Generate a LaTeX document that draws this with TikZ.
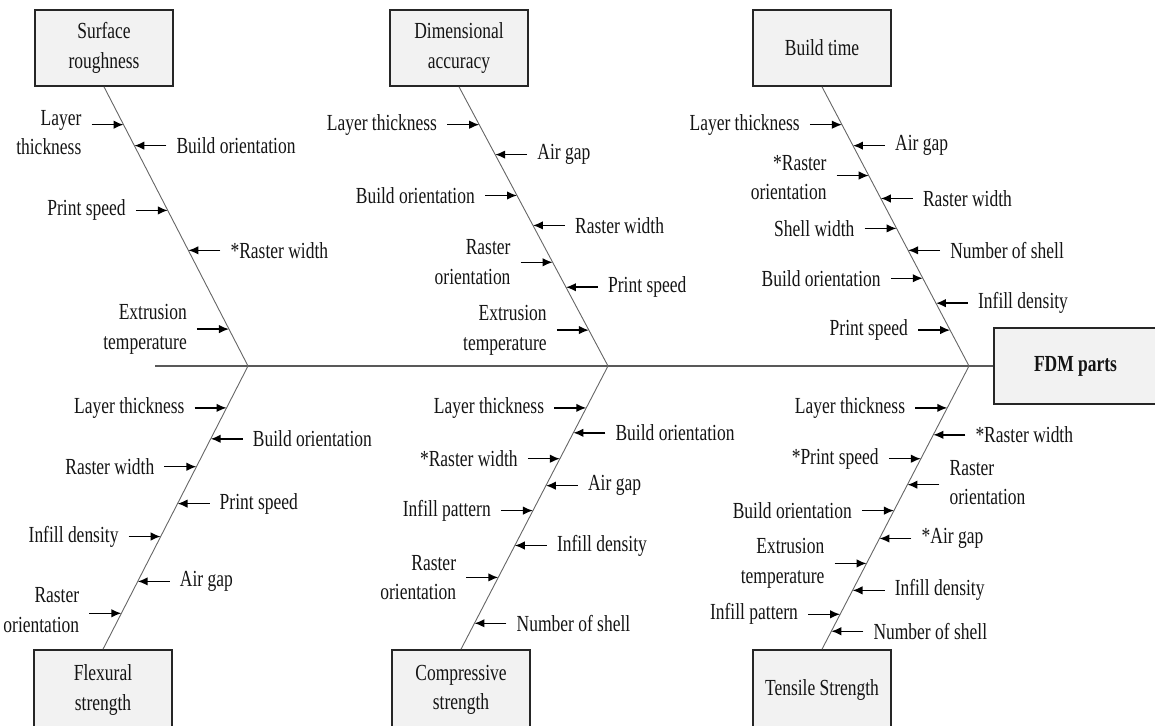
\documentclass[tikz,border=0pt]{standalone}
\usepackage{fontspec}
\setmainfont{Liberation Serif}[FakeStretch=0.76]
\usetikzlibrary{calc,arrows.meta}

% y range of the bone that the next causes sit on
\newcommand\setbone[2]{\def\bonetop{#1}\def\bonebot{#2}}
% cause on the left of a bone: [label yshift]{name}{bone start}{bone end}{y}{text}
\newcommand\lcause[6][0pt]{%
  \pgfmathsetmacro\causefrac{(#5-\bonetop)/(\bonebot-\bonetop)}%
  \coordinate (#2) at ($(#3)!\causefrac!(#4)$);
  \node[lbl, anchor=east, align=right, xshift=-32pt, yshift=#1] (#2l) at (#2) {#6};
  \draw[cause] (#2l.east |- #2) -- (#2);
}
% cause on the right of a bone
\newcommand\rcause[6][0pt]{%
  \pgfmathsetmacro\causefrac{(#5-\bonetop)/(\bonebot-\bonetop)}%
  \coordinate (#2) at ($(#3)!\causefrac!(#4)$);
  \node[lbl, anchor=west, align=left, xshift=32pt, yshift=#1] (#2l) at (#2) {#6};
  \draw[cause] (#2l.west |- #2) -- (#2);
}

\begin{document}
\begin{tikzpicture}[x=1pt, y=-1pt,
  txt/.style={font=\fontsize{23}{29.5}\selectfont, text=black!92},
  effect/.style={txt, draw=black!85, line width=1.6pt, fill=black!5,
    minimum width=138pt, minimum height=76pt, align=center, inner sep=0pt},
  loweffect/.style={effect, minimum height=80pt},
  lbl/.style={txt, inner ysep=0pt, inner xsep=10pt},
  bone/.style={draw=black!60, line width=0.9pt},
  spine/.style={draw=black!65, line width=1.3pt},
  cause/.style={draw=black, line width=1.5pt, -{Latex[length=10pt,width=8.5pt]}},
]
\useasboundingbox (0,0) rectangle (1155,725);
\clip (0,0) rectangle (1155,725);

% head and spine
\node[effect, minimum width=163pt, font=\fontsize{23}{29.5}\selectfont\bfseries] (fdm) at (1075.5,366) {FDM parts};
\coordinate (tail) at (155,366);
\coordinate (j1) at (248,366);
\coordinate (j2) at (608,366);
\coordinate (j3) at (969,366);

% effect boxes
\node[effect] (sr) at (104,48)  {Surface\\roughness};
\node[effect] (da) at (459,48)  {Dimensional\\accuracy};
\node[effect] (bt) at (822,48)  {Build time};
\node[loweffect] (fs) at (103,690) {Flexural\\strength};
\node[loweffect] (cs) at (461,690) {Compressive\\strength};
\node[loweffect] (ts) at (822,690) {Tensile Strength};

\draw[spine] (tail) -- (fdm.west);
\draw[bone] (sr.south) -- (j1);
\draw[bone] (da.south) -- (j2);
\draw[bone] (bt.south) -- (j3);
\draw[bone] (j1) -- (fs.north);
\draw[bone] (j2) -- (cs.north);
\draw[bone] (j3) -- (ts.north);

% upper bones
\setbone{86}{366}
\lcause[-8pt]{a1}{sr.south}{j1}{124}{Layer\\thickness}
\rcause{a2}{sr.south}{j1}{145}{Build orientation}
\lcause{a3}{sr.south}{j1}{210}{Print speed}
\rcause{a4}{sr.south}{j1}{250}{*Raster width}
\lcause{a5}{sr.south}{j1}{329}{Extrusion\\temperature}

\lcause{b1}{da.south}{j2}{124}{Layer thickness}
\rcause{b2}{da.south}{j2}{154}{Air gap}
\lcause{b3}{da.south}{j2}{195}{Build orientation}
\rcause{b4}{da.south}{j2}{225}{Raster width}
\lcause{b5}{da.south}{j2}{262}{Raster\\orientation}
\rcause{b6}{da.south}{j2}{287}{Print speed}
\lcause{b7}{da.south}{j2}{330}{Extrusion\\temperature}

\lcause{c1}{bt.south}{j3}{124}{Layer thickness}
\rcause{c2}{bt.south}{j3}{145}{Air gap}
\lcause[-2pt]{c3}{bt.south}{j3}{175}{*Raster\\orientation}
\rcause{c4}{bt.south}{j3}{198}{Raster width}
\lcause{c5}{bt.south}{j3}{228}{Shell width}
\rcause{c6}{bt.south}{j3}{250}{Number of shell}
\lcause{c7}{bt.south}{j3}{278}{Build orientation}
\rcause{c8}{bt.south}{j3}{303}{Infill density}
\lcause{c9}{bt.south}{j3}{330}{Print speed}

% lower bones
\setbone{366}{650}
\lcause{d1}{j1}{fs.north}{408}{Layer thickness}
\rcause{d2}{j1}{fs.north}{439}{Build orientation}
\lcause{d3}{j1}{fs.north}{467}{Raster width}
\rcause{d4}{j1}{fs.north}{504}{Print speed}
\lcause{d5}{j1}{fs.north}{537}{Infill density}
\rcause{d6}{j1}{fs.north}{582}{Air gap}
\lcause[3pt]{d7}{j1}{fs.north}{614}{Raster\\orientation}

\lcause{e1}{j2}{cs.north}{408}{Layer thickness}
\rcause{e2}{j2}{cs.north}{433}{Build orientation}
\lcause{e3}{j2}{cs.north}{459}{*Raster width}
\rcause{e4}{j2}{cs.north}{486}{Air gap}
\lcause{e5}{j2}{cs.north}{511}{Infill pattern}
\rcause{e6}{j2}{cs.north}{546}{Infill density}
\lcause{e7}{j2}{cs.north}{578}{Raster\\orientation}
\rcause{e8}{j2}{cs.north}{624}{Number of shell}

\lcause{f1}{j3}{ts.north}{408}{Layer thickness}
\rcause{f2}{j3}{ts.north}{435}{*Raster width}
\lcause{f3}{j3}{ts.north}{459}{*Print speed}
\rcause[2pt]{f4}{j3}{ts.north}{485}{Raster\\orientation}
\lcause{f5}{j3}{ts.north}{511}{Build orientation}
\rcause{f6}{j3}{ts.north}{539}{*Air gap}
\lcause{f7}{j3}{ts.north}{564}{Extrusion\\temperature}
\rcause{f8}{j3}{ts.north}{591}{Infill density}
\lcause{f9}{j3}{ts.north}{615}{Infill pattern}
\rcause{f10}{j3}{ts.north}{632}{Number of shell}
\end{tikzpicture}
\end{document}
